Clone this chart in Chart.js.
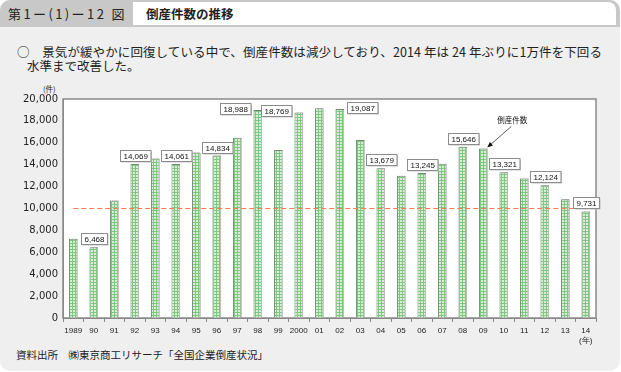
<!DOCTYPE html>
<html lang="ja">
<head>
<meta charset="utf-8">
<script src="https://cdn.jsdelivr.net/npm/chart.js@4.4.1/dist/chart.umd.min.js"></script>
<style>
  html, body { margin: 0; padding: 0; background: #fff; }
  body { width: 621px; height: 372px; position: relative; overflow: hidden; font-family: "Noto Sans CJK JP", sans-serif; color: #222; }
  .frame { position: absolute; left: 0; top: 0; width: 620px; height: 371px; background: #eeefee; border-radius: 10px; overflow: hidden; }
  .band { position: absolute; left: 0; top: 0; width: 620px; height: 27px; background: #c8c8c8; }
  .tab { position: absolute; left: 8px; top: 6px; font-size: 13px; line-height: 15px; letter-spacing: 2.4px; white-space: nowrap; }
  .title-box { position: absolute; left: 133px; top: 2px; width: 483px; height: 23px; background: #fff; border-top-right-radius: 8px; }
  .title { position: absolute; left: 13px; top: 4px; font-size: 12.5px; line-height: 15px; font-weight: bold; white-space: nowrap; }
  .txt { position: absolute; font-size: 12.5px; line-height: 14px; white-space: nowrap; }
  .unit { position: absolute; left: 43px; top: 84px; font-size: 7.5px; line-height: 9px; }
  .source { position: absolute; left: 16px; top: 349px; font-size: 10.5px; line-height: 12px; white-space: nowrap; }
  canvas { position: absolute; left: 0; top: 0; }
</style>
</head>
<body>
<div class="frame">
  <div class="band"><div class="tab">第1ー(1)ー12 図</div></div>
  <div class="title-box"><div class="title">倒産件数の推移</div></div>
  <div class="txt" style="left:17px;top:45px;letter-spacing:0.1px;">○　景気が緩やかに回復している中で、倒産件数は減少しており、2014 年は 24 年ぶりに1万件を下回る</div>
  <div class="txt" style="left:27px;top:59px;">水準まで改善した。</div>
  <div class="unit">(件)</div>
  <div class="source">資料出所　㈱東京商工リサーチ「全国企業倒産状況」</div>
</div>
<canvas id="chart" width="621" height="372"></canvas>
<script>
// --- Data ---
const years = ['1989', '90', '91', '92', '93', '94', '95', '96', '97', '98', '99', '2000',
  '01', '02', '03', '04', '05', '06', '07', '08', '09', '10', '11', '12', '13', '14'];
const bankruptcies = [7234, 6468, 10723, 14069, 14564, 14061, 15108, 14834, 16464, 18988, 15352, 18769,
  19164, 19087, 16255, 13679, 12998, 13245, 14091, 15646, 15480, 13321, 12734, 12124, 10855, 9731];
const labeledYears = ['90', '92', '94', '96', '98', '2000', '02', '04', '06', '08', '10', '12', '14'];
const threshold = 10000;
const yTicks = [0, 2000, 4000, 6000, 8000, 10000, 12000, 14000, 16000, 18000, 20000];
const seriesName = '倒産件数';
const calloutYear = '09';

// labels near the top of the plot sit beside the bar instead of above it
const labelSide = { '98': 'left', '2000': 'left', '02': 'right' };

// --- Helpers ---
function makeGridPattern() {
  const c = document.createElement('canvas');
  c.width = 3; c.height = 3;
  const g = c.getContext('2d');
  g.fillStyle = '#d6efd6';
  g.fillRect(0, 0, 3, 3);
  g.fillStyle = '#7fc67f';
  g.fillRect(0, 0, 3, 1);
  g.fillRect(0, 0, 1, 3);
  return g.createPattern(c, 'repeat');
}

const fmt = v => v.toLocaleString('en-US');

// --- Plugins ---
const plotFrame = {
  id: 'plotFrame',
  beforeDraw(chart) {
    const { ctx, chartArea: a } = chart;
    ctx.save();
    ctx.fillStyle = '#fff';
    ctx.fillRect(a.left, a.top, a.right - a.left, a.bottom - a.top);
    ctx.strokeStyle = '#8a8a8a';
    ctx.lineWidth = 1.5;
    ctx.strokeRect(a.left, a.top, a.right - a.left, a.bottom - a.top);
    ctx.restore();
  },
  beforeDatasetDraw(chart, args) {
    if (args.meta.type !== 'bar') return;
    const ctx = chart.ctx;
    ctx.save();
    ctx.shadowColor = '#bcbcbc';
    ctx.shadowOffsetX = 2;
    ctx.shadowOffsetY = 0;
    ctx.shadowBlur = 0;
  },
  afterDatasetDraw(chart, args) {
    if (args.meta.type === 'bar') chart.ctx.restore();
  }
};

const valueBoxes = {
  id: 'valueBoxes',
  afterDatasetsDraw(chart) {
    const ctx = chart.ctx;
    const meta = chart.getDatasetMeta(1);
    ctx.save();
    ctx.font = '8px "Liberation Sans", sans-serif';
    ctx.textAlign = 'center';
    ctx.textBaseline = 'middle';
    labeledYears.forEach(year => {
      const i = years.indexOf(year);
      const bar = meta.data[i];
      const text = fmt(bankruptcies[i]);
      const w = ctx.measureText(text).width + 6;
      const h = 11;
      const side = labelSide[year] || 'top';
      let cx = bar.x, cy = bar.y - 3 - h / 2;
      if (side === 'left') { cx = bar.x - bar.width / 2 - 3 - w / 2; cy = bar.y - 2; }
      if (side === 'right') { cx = bar.x + bar.width / 2 + 3 + w / 2; cy = bar.y - 1; }
      const x0 = Math.round(cx - w / 2) + 0.5, y0 = Math.round(cy - h / 2) + 0.5;
      ctx.fillStyle = '#c4c4c4';
      ctx.fillRect(x0 + 1, y0 + 1, w, h);
      ctx.fillStyle = '#fff';
      ctx.fillRect(x0, y0, w, h);
      ctx.strokeStyle = '#8c8c8c';
      ctx.lineWidth = 1;
      ctx.strokeRect(x0, y0, w, h);
      ctx.fillStyle = '#111';
      ctx.fillText(text, x0 + w / 2, y0 + h / 2 + 0.5);
    });

    // callout arrow pointing at the 2009 bar
    const bar = meta.data[years.indexOf(calloutYear)];
    const tipX = bar.x + 4, tipY = bar.y - 1;
    const tailX = tipX + 24, tailY = tipY - 21;
    ctx.strokeStyle = '#333';
    ctx.fillStyle = '#111';
    ctx.lineWidth = 0.8;
    ctx.beginPath();
    ctx.moveTo(tailX, tailY);
    ctx.lineTo(tipX + 3, tipY - 2.6);
    ctx.stroke();
    const ang = Math.atan2(tipY - tailY, tipX - tailX);
    ctx.beginPath();
    ctx.moveTo(tipX, tipY);
    ctx.lineTo(tipX - 6 * Math.cos(ang - 0.4), tipY - 6 * Math.sin(ang - 0.4));
    ctx.lineTo(tipX - 6 * Math.cos(ang + 0.4), tipY - 6 * Math.sin(ang + 0.4));
    ctx.closePath();
    ctx.fill();
    ctx.font = '7.5px "Noto Sans CJK JP", sans-serif';
    ctx.fillText(seriesName, tailX + 1, tailY - 6);
    ctx.restore();
  }
};

// --- Chart ---
const ctx = document.getElementById('chart').getContext('2d');
new Chart(ctx, {
  type: 'bar',
  data: {
    labels: years.map(y => (y === '14' ? ['14', '(年)'] : y)),
    datasets: [
      {
        type: 'line',
        data: years.map(() => threshold),
        borderColor: '#ef7d4e',
        borderWidth: 1,
        borderDash: [5, 3],
        pointRadius: 0,
        order: 0
      },
      {
        label: seriesName,
        data: bankruptcies,
        backgroundColor: makeGridPattern(),
        borderColor: '#738a73',
        borderWidth: { left: 1, right: 1, top: 1, bottom: 0 },
        borderSkipped: 'bottom',
        categoryPercentage: 1,
        barPercentage: 0.42,
        order: 1
      }
    ]
  },
  options: {
    responsive: false,
    animation: false,
    devicePixelRatio: 1,
    layout: { padding: { top: 99, right: 25, left: 0, bottom: 0 } },
    plugins: { legend: { display: false }, tooltip: { enabled: false } },
    scales: {
      x: {
        grid: { display: true, drawOnChartArea: false, offset: true, tickLength: 4, color: '#888' },
        border: { color: '#888' },
        ticks: { font: { family: 'Liberation Sans', size: 8 }, color: '#222', padding: 4, maxRotation: 0, autoSkip: false },
        afterFit(scale) { scale.height = 54; }
      },
      y: {
        min: 0,
        max: 20000,
        afterBuildTicks(scale) { scale.ticks = yTicks.map(v => ({ value: v })); },
        ticks: { font: { family: 'DejaVu Sans', size: 10 }, color: '#222', padding: 5, callback: v => fmt(v) },
        grid: { drawOnChartArea: false, drawTicks: false },
        border: { color: '#888' },
        afterFit(scale) { scale.width = 63; }
      }
    }
  },
  plugins: [plotFrame, valueBoxes]
});
</script>
</body>
</html>
